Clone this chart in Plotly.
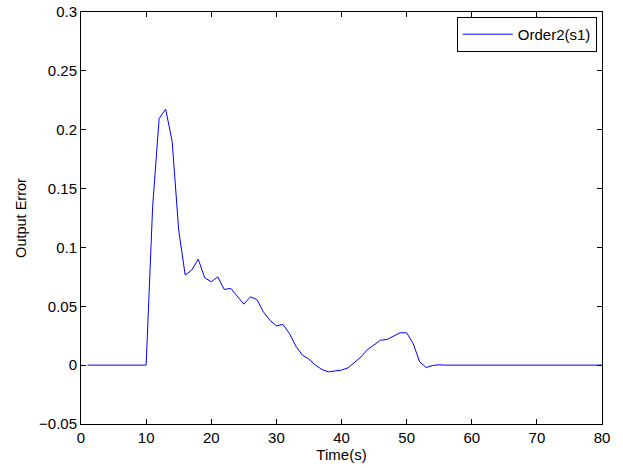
import plotly.graph_objects as go

time_s = list(range(1, 81))
err_head = [0.0] * 10  # t = 1..10
err_mid = [0.1345, 0.2096, 0.2175, 0.190, 0.1147, 0.0765, 0.0807, 0.0900, 0.0742, 0.0708,
           0.0750, 0.0643, 0.0652, 0.0586, 0.0518, 0.0580, 0.0558, 0.0453, 0.0382, 0.0334,
           0.0346, 0.0269, 0.0161, 0.0085, 0.0051, 0.0000, -0.0037, -0.0057, -0.0051, -0.0042,
           -0.0023, 0.0020, 0.0070, 0.0133, 0.0170, 0.0212, 0.0218, 0.0246, 0.0275, 0.0275,
           0.0184, 0.0028, -0.0020, -0.0003, 0.0003]  # t = 11..55
err_tail = [0.0] * 25  # t = 56..80
output_error = err_head + err_mid + err_tail

x_ticks = [0, 10, 20, 30, 40, 50, 60, 70, 80]
y_ticks = [-0.05, 0, 0.05, 0.1, 0.15, 0.2, 0.25, 0.3]
y_labels = ["\u22120.05", "0", "0.05", "0.1", "0.15", "0.2", "0.25", "0.3"]

fig = go.Figure()
fig.add_trace(go.Scatter(x=time_s, y=output_error, mode="lines", name="Order2(s1)",
                         line=dict(color="#0000ff", width=1)))

FONT = "Liberation Sans, Arial"
axis_common = dict(showline=True, linecolor="black", linewidth=1, mirror="ticks",
                   ticks="inside", ticklen=5, tickcolor="black", showgrid=False,
                   zeroline=False, automargin=False, ticklabeloverflow="allow",
                   tickfont=dict(family=FONT, size=15, color="black"))

fig.update_layout(
    width=623, height=468,
    margin=dict(l=81, r=21, t=12, b=44),
    paper_bgcolor="white", plot_bgcolor="white",
    font=dict(family=FONT, size=15, color="black"),
    xaxis=dict(range=[0, 80], tickvals=x_ticks,
               title=dict(text="Time(s)", standoff=1, font=dict(size=15)), **axis_common),
    yaxis=dict(range=[-0.05, 0.3], tickvals=y_ticks, ticktext=y_labels,
               title=dict(text="Output Error", standoff=8, font=dict(size=14.5)), **axis_common),
    legend=dict(x=0.990, y=0.988, xanchor="right", yanchor="top", bgcolor="white",
                bordercolor="black", borderwidth=1, font=dict(size=15), itemwidth=50),
    showlegend=True,
)

fig.write_html("out.html", config={"displayModeBar": False},
               post_script="document.body.style.margin='0';")
